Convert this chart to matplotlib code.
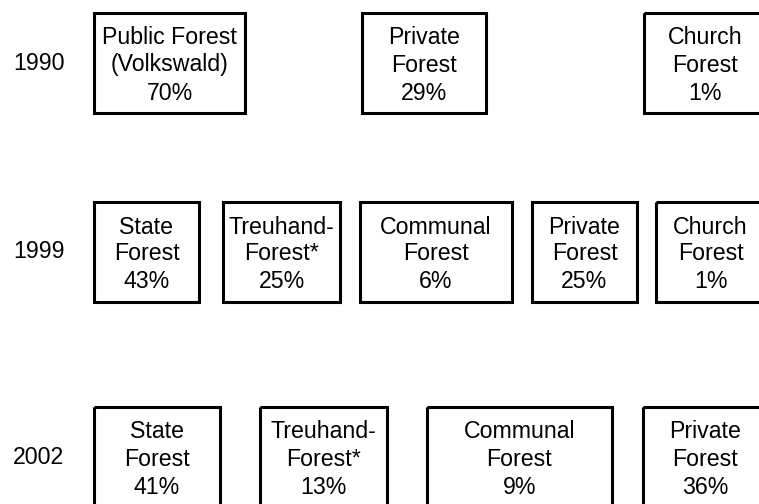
import matplotlib
matplotlib.use("Agg")
import matplotlib.pyplot as plt
from matplotlib.patches import Rectangle

# forest ownership by year (share of forest area, %)
years = ["1990", "1999", "2002"]

names_1990 = ["Public Forest\n(Volkswald)", "Private\nForest", "Church\nForest"]
shares_1990 = [70, 29, 1]

names_1999 = ["State\nForest", "Treuhand-\nForest*", "Communal\nForest", "Private\nForest", "Church\nForest"]
shares_1999 = [43, 25, 6, 25, 1]

names_2002 = ["State\nForest", "Treuhand-\nForest*", "Communal\nForest", "Private\nForest"]
shares_2002 = [41, 13, 9, 36]

# layout (pixels): box left/right edges per row, top of each row
box_edges = [
    [(94, 245), (362, 486), (644, 767)],
    [(94, 199), (223, 340), (360, 512), (532, 637), (656, 765)],
    [(94, 220), (260, 387), (427, 612), (643, 768)],
]
row_top = [13, 202, 407]
box_h = 100
line_off = [25, 52, 80]
year_x = 39

W, H = 759, 504
fig = plt.figure(figsize=(W / 100, H / 100), dpi=100)
ax = fig.add_axes([0, 0, 1, 1])
ax.set_xlim(0, W)
ax.set_ylim(H, 0)
ax.axis("off")

font = dict(family="Liberation Sans", fontsize=16.7, color="black",
            ha="center", va="center")

rows = [(names_1990, shares_1990), (names_1999, shares_1999), (names_2002, shares_2002)]
for r, (names, shares) in enumerate(rows):
    top = row_top[r]
    ax.text(year_x, top + 50, years[r], **font)
    for (x0, x1), name, share in zip(box_edges[r], names, shares):
        ax.add_patch(Rectangle((x0, top), x1 - x0, box_h, fill=False,
                               edgecolor="black", linewidth=2.2))
        cx = (x0 + x1) / 2
        l1, l2 = name.split("\n")
        ax.text(cx, top + line_off[0], l1, **font)
        ax.text(cx, top + line_off[1], l2, **font)
        ax.text(cx, top + line_off[2], f"{share}%", **font)

fig.savefig("out.png", dpi=100)
